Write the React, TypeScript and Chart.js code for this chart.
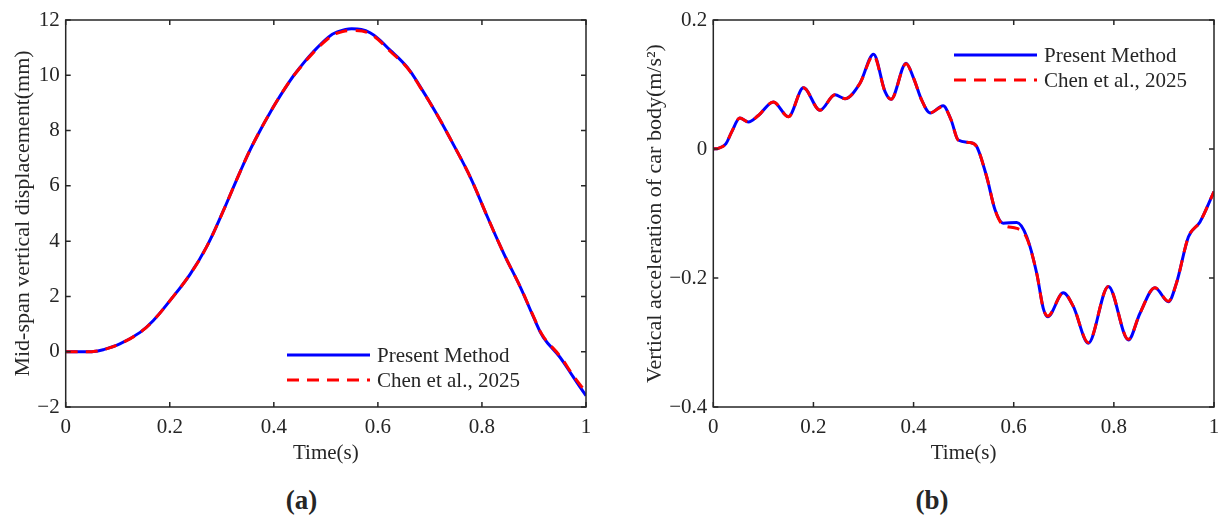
import { useEffect, useRef } from "react";
import { Chart, registerables, type Plugin } from "chart.js";

Chart.register(...registerables);

const SERIF = "'Liberation Serif', 'Times New Roman', serif";
const INK = "#262626";
const BLUE = "#0000FF";
const RED = "#FF0000";
const TICK = 5;

Chart.defaults.font.family = SERIF;
Chart.defaults.font.size = 21;
Chart.defaults.color = INK;

const SERIES_NAMES = ["Present Method", "Chen et al., 2025"];

// (a) mid-span vertical displacement, mm
const DISP_T = [0, 0.03, 0.05, 0.072, 0.104, 0.143, 0.168, 0.2, 0.239, 0.271, 0.303, 0.335, 0.361, 0.399, 0.431, 0.451, 0.476, 0.505, 0.521, 0.55, 0.585, 0.624, 0.656, 0.681, 0.713, 0.745, 0.778, 0.81, 0.842, 0.874, 0.899, 0.918, 0.95, 0.976, 1];
const DISP_PRESENT = [0, 0, 0, 0.07, 0.28, 0.7, 1.12, 1.84, 2.8, 3.8, 5.1, 6.5, 7.55, 8.85, 9.8, 10.3, 10.85, 11.38, 11.56, 11.68, 11.54, 10.9, 10.3, 9.6, 8.6, 7.5, 6.3, 4.9, 3.55, 2.33, 1.26, 0.52, -0.2, -0.93, -1.59];
const DISP_CHEN = [0, 0, 0, 0.07, 0.28, 0.7, 1.12, 1.84, 2.8, 3.8, 5.1, 6.5, 7.55, 8.85, 9.8, 10.28, 10.82, 11.34, 11.52, 11.62, 11.5, 10.86, 10.28, 9.58, 8.6, 7.5, 6.3, 4.9, 3.55, 2.33, 1.28, 0.55, -0.16, -0.88, -1.47];
const DISP_Y = [-2, 12, 2]; // min, max, step

// (b) vertical acceleration of car body, m/s^2
const ACC_T = [0, 0.01, 0.025, 0.037, 0.053, 0.07, 0.09, 0.12, 0.15, 0.18, 0.213, 0.243, 0.263, 0.293, 0.32, 0.343, 0.355, 0.385, 0.4, 0.416, 0.433, 0.459, 0.475, 0.489, 0.513, 0.526, 0.546, 0.563, 0.579, 0.606, 0.626, 0.646, 0.659, 0.668, 0.699, 0.719, 0.749, 0.789, 0.829, 0.852, 0.882, 0.909, 0.925, 0.949, 0.972, 1];
const ACC_PRESENT = [0, 0.001, 0.008, 0.027, 0.048, 0.042, 0.052, 0.073, 0.05, 0.095, 0.06, 0.084, 0.078, 0.102, 0.147, 0.089, 0.077, 0.133, 0.11, 0.076, 0.056, 0.067, 0.045, 0.014, 0.01, 0.004, -0.043, -0.095, -0.115, -0.114, -0.136, -0.193, -0.247, -0.26, -0.223, -0.244, -0.301, -0.213, -0.296, -0.255, -0.215, -0.237, -0.208, -0.136, -0.113, -0.066];
const ACC_CHEN = [0, 0.001, 0.008, 0.027, 0.048, 0.042, 0.052, 0.073, 0.05, 0.095, 0.06, 0.084, 0.078, 0.102, 0.145, 0.089, 0.077, 0.132, 0.11, 0.076, 0.056, 0.066, 0.045, 0.014, 0.01, 0.004, -0.043, -0.095, -0.118, -0.123, -0.138, -0.193, -0.247, -0.259, -0.223, -0.244, -0.3, -0.213, -0.295, -0.255, -0.215, -0.236, -0.208, -0.136, -0.113, -0.066];
const ACC_Y = [-0.4, 0.2, 0.2];

const fmt = (v: number) => String(Number(v.toFixed(3))).replace("-", "\u2212");

// MATLAB-like box with inward ticks on all four sides
const framePlugin: Plugin = {
  id: "matlabFrame",
  afterDraw(chart) {
    const { ctx, chartArea: a } = chart;
    const x = chart.scales.x;
    const y = chart.scales.y;
    ctx.save();
    ctx.strokeStyle = INK;
    ctx.lineWidth = 1.5;
    ctx.beginPath();
    for (const t of x.ticks) {
      const px = x.getPixelForValue(t.value);
      ctx.moveTo(px, a.bottom);
      ctx.lineTo(px, a.bottom - TICK);
      ctx.moveTo(px, a.top);
      ctx.lineTo(px, a.top + TICK);
    }
    for (const t of y.ticks) {
      const py = y.getPixelForValue(t.value);
      ctx.moveTo(a.left, py);
      ctx.lineTo(a.left + TICK, py);
      ctx.moveTo(a.right, py);
      ctx.lineTo(a.right - TICK, py);
    }
    ctx.stroke();
    ctx.strokeRect(a.left, a.top, a.right - a.left, a.bottom - a.top);
    ctx.restore();
  },
};

// legend drawn inside the axes, like MATLAB's
const inlineLegend: Plugin = {
  id: "inlineLegend",
  afterDatasetsDraw(chart, _args, opts: any) {
    const { ctx } = chart;
    ctx.save();
    ctx.font = `21px ${SERIF}`;
    ctx.textBaseline = "middle";
    ctx.fillStyle = INK;
    chart.data.datasets.forEach((ds: any, i) => {
      const y = opts.y + i * 25;
      ctx.strokeStyle = ds.borderColor;
      ctx.lineWidth = 3;
      ctx.setLineDash(ds.borderDash || []);
      ctx.beginPath();
      ctx.moveTo(opts.x, y);
      ctx.lineTo(opts.x + 83, y);
      ctx.stroke();
      ctx.setLineDash([]);
      ctx.fillText(ds.label, opts.x + 90, y + 1);
    });
    ctx.restore();
  },
};

type PanelProps = {
  t: number[];
  present: number[];
  chen: number[];
  yRange: number[];
  yTitle: string;
  left: number;
  width: number;
  yAxisWidth: number;
  yTitlePad: number;
  padRight: number;
  smooth: "monotone" | "default";
  legend: { x: number; y: number };
};

function Panel({ t, present, chen, yRange, yTitle, left, width, yAxisWidth, yTitlePad, padRight, smooth, legend }: PanelProps) {
  const ref = useRef<HTMLCanvasElement>(null);
  useEffect(() => {
    if (!ref.current) return;
    const line = { borderWidth: 3, pointRadius: 0, cubicInterpolationMode: smooth, tension: 0.4 };
    const chart = new Chart(ref.current, {
      type: "line",
      data: {
        datasets: [
          { ...line, label: SERIES_NAMES[0], data: t.map((x, i) => ({ x, y: present[i] })), borderColor: BLUE, order: 2 },
          { ...line, label: SERIES_NAMES[1], data: t.map((x, i) => ({ x, y: chen[i] })), borderColor: RED, borderDash: [12, 8], order: 1 },
        ],
      },
      options: {
        animation: false,
        responsive: true,
        maintainAspectRatio: false,
        layout: { padding: { top: 20, right: padRight, left: 0, bottom: 0 } },
        plugins: {
          legend: { display: false },
          tooltip: { enabled: false },
          inlineLegend: legend,
        } as any,
        scales: {
          x: {
            type: "linear",
            min: 0,
            max: 1,
            grid: { display: false, drawTicks: false },
            border: { display: false },
            ticks: { stepSize: 0.2, padding: 8, maxRotation: 0, autoSkip: false, callback: (v) => fmt(Number(v)) },
            title: { display: true, text: "Time(s)", padding: { top: 0, bottom: 4 } },
            afterFit: (s) => {
              s.height = 63;
            },
          },
          y: {
            type: "linear",
            min: yRange[0],
            max: yRange[1],
            grid: { display: false, drawTicks: false },
            border: { display: false },
            ticks: { stepSize: yRange[2], padding: 6, callback: (v) => fmt(Number(v)) },
            title: { display: true, text: yTitle, font: { size: 22 }, padding: { top: yTitlePad, bottom: 0 } },
            afterFit: (s) => {
              s.width = yAxisWidth;
            },
          },
        },
      },
      plugins: [framePlugin, inlineLegend],
    });
    return () => chart.destroy();
  }, []);
  return (
    <div style={{ position: "absolute", left, top: 0, width, height: 470 }}>
      <canvas ref={ref} />
    </div>
  );
}

const caption = (cx: number): React.CSSProperties => ({
  position: "absolute",
  left: cx - 100,
  width: 200,
  top: 484,
  lineHeight: "32px",
  textAlign: "center",
  fontFamily: SERIF,
  fontWeight: "bold",
  fontSize: 27,
  color: INK,
});

export default function App() {
  return (
    <div style={{ position: "absolute", left: 0, top: 0, width: 1231, height: 527, background: "#fff", overflow: "hidden" }}>
      <Panel
        t={DISP_T}
        present={DISP_PRESENT}
        chen={DISP_CHEN}
        yRange={DISP_Y}
        yTitle="Mid-span vertical displacement(mm)"
        left={0}
        width={615}
        yAxisWidth={65.7}
        yTitlePad={9.8}
        padRight={29}
        smooth="default"
        legend={{ x: 287, y: 355 }}
      />
      <Panel
        t={ACC_T}
        present={ACC_PRESENT}
        chen={ACC_CHEN}
        yRange={ACC_Y}
        yTitle="Vertical acceleration of car body(m/s²)"
        left={615}
        width={616}
        yAxisWidth={98.3}
        yTitlePad={26.8}
        padRight={17}
        smooth="monotone"
        legend={{ x: 339, y: 55 }}
      />
      <div style={caption(301.5)}>(a)</div>
      <div style={caption(932)}>(b)</div>
    </div>
  );
}
